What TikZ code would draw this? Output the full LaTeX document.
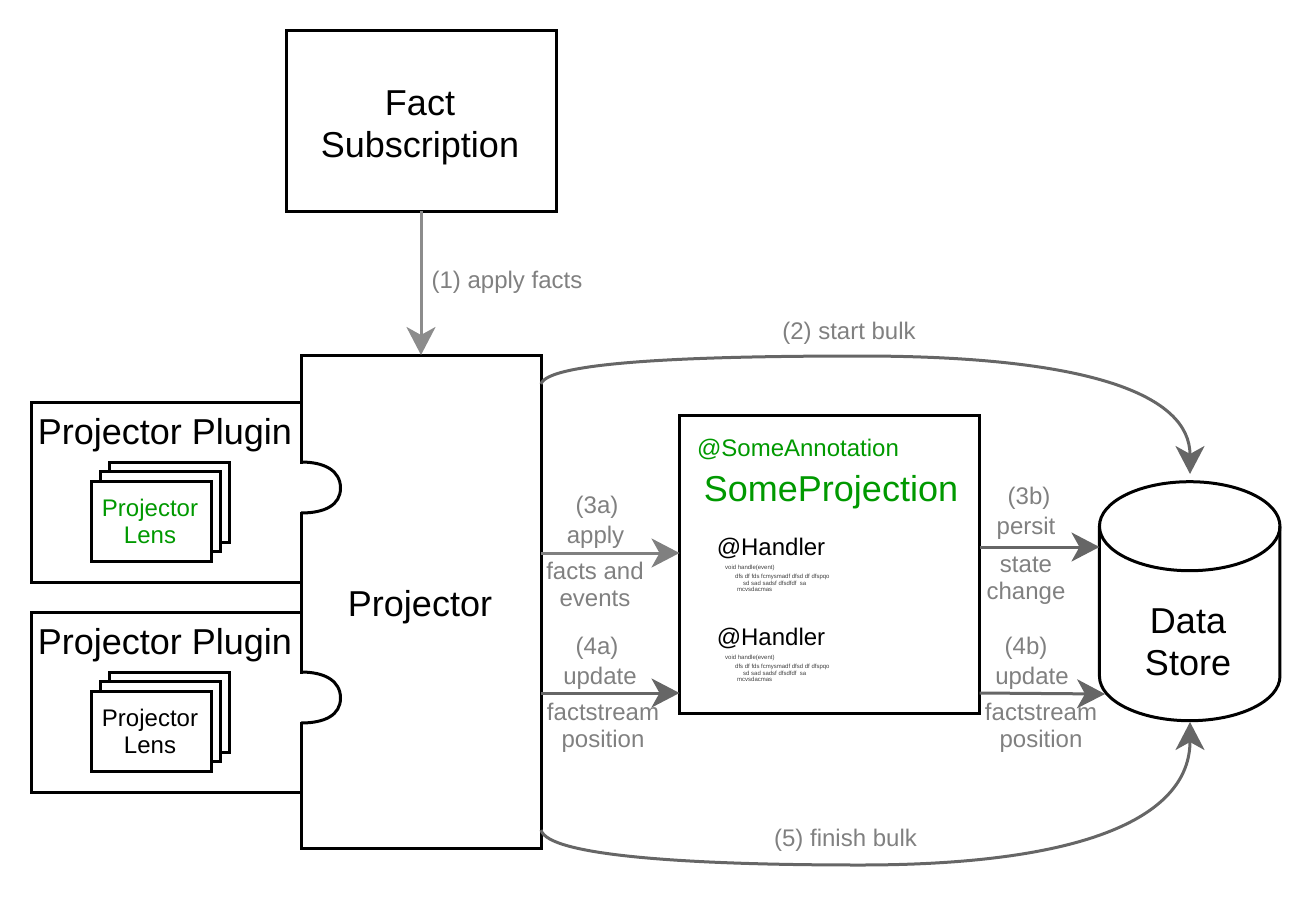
\documentclass[tikz,border=0pt]{standalone}
\usepackage{fontspec}
\setmainfont{Liberation Sans}
\usetikzlibrary{arrows.meta}
\definecolor{lensgreen}{HTML}{009900}
\definecolor{labelgray}{HTML}{808080}
\definecolor{flowdark}{HTML}{666666}
\definecolor{flowmid}{HTML}{808080}
\definecolor{flowlight}{HTML}{8C8C8C}
\tikzset{
  box/.style={draw=black,line width=3pt,fill=white,inner sep=0pt,outer sep=0pt,align=center},
  big/.style={font=\fontsize{36}{42}\selectfont,align=center,inner sep=0pt},
  mid/.style={font=\fontsize{24}{27}\selectfont,align=center,inner sep=0pt},
  flowlabel/.style={mid,text=labelgray},
  tiny/.style={font=\fontsize{6}{6}\selectfont,anchor=west,inner sep=0pt,text=black!75},
  flow/.style={line width=3pt,-{Stealth[length=28pt,width=29pt,inset=8pt]}},
}
\begin{document}
\begin{tikzpicture}[x=1pt,y=-1pt]
    \useasboundingbox (0,0) rectangle (1311,915);
    % top box
    \node [box,minimum width=270pt,minimum height=180pt] (sub) at (421,121) {};
    \node [big] (subtext) at (420,128) {Fact\\Subscription};
    % the two plugins
    \foreach \py/\lenscol/\pname in {0/lensgreen/a,210/black/b} {
        \node [box,minimum width=270pt,minimum height=180pt] (plugin\pname) at (166,492+\py) {};
        \node [big] (plugintext\pname) at (165,435+\py) {Projector Plugin};
        \node [box,minimum width=120pt,minimum height=80pt] (lensback\pname) at (169.5,502+\py) {};
        \node [box,minimum width=120pt,minimum height=80pt] (lensmid\pname) at (160.5,511+\py) {};
        \node [box,minimum width=120pt,minimum height=80pt] (lens\pname) at (151.5,521+\py) {};
        \node [mid,text=\lenscol] (lenstext\pname) at (150,521+\py) {Projector\\Lens};
    }
    \node [box,minimum width=240pt,minimum height=493pt] (projector) at (421,601.5) {};
    \node [big] (projectortext) at (420,607) {Projector};
    % puzzle bumps on the left side of the projector
    \foreach \py in {0,210} {
        \fill [white] (299,463.5+\py) rectangle (303,511.5+\py);
        \draw [black,line width=3pt] (301,462+\py) .. controls (325,462+\py) and (340.5,471+\py) .. (340.5,488+\py)
            .. controls (340.5,505+\py) and (325,513+\py) .. (301,513+\py);
    }
    % projection box
    \node [box,minimum width=300pt,minimum height=298pt] (projection) at (829.5,564) {};
    \node [mid,text=lensgreen] (annotation) at (798,449) {@SomeAnnotation};
    \node [big,text=lensgreen] (projname) at (831,492.5) {SomeProjection};
    \foreach \hy/\hname in {0/a,90/b} {
        \node [mid] (handler\hname) at (771,548+\hy) {@Handler};
        \node [tiny] (sig\hname) at (725,568+\hy) {void handle(event)};
        \node [tiny] (codeone\hname) at (735,577+\hy) {dfs df fds fcmysmadf dfsd df dfspqo};
        \node [tiny] (codetwo\hname) at (743,583+\hy) {sd sad sadsf dfsdfdf\ \ sa};
        \node [tiny] (codethree\hname) at (737,589+\hy) {mcvsdacmas};
    }
    % data store
    \node [inner sep=0pt,outer sep=0pt,minimum width=180.5pt,minimum height=239pt] (store) at (1189.7,601.2) {};
    \draw [black,line width=3pt,fill=white] (store.north west) ++(0,44.5)
        arc [start angle=180,end angle=0,x radius=90.25pt,y radius=44.5pt] -- ++(0,150)
        arc [start angle=0,end angle=-180,x radius=90.25pt,y radius=44.5pt] -- cycle;
    \draw [black,line width=3pt] (store.north west) ++(0,44.5)
        arc [start angle=180,end angle=360,x radius=90.25pt,y radius=44.5pt];
    \node [big] (storetext) at (1188,642.5) {Data\\Store};
    % connectors
    \coordinate (applyrow) at (600,553);
    \coordinate (updaterow) at (600,693);
    \coordinate (persistrow) at (1040,547);
    \coordinate (bulkout) at (541,384);
    \coordinate (bulkin) at (1190,474);
    \coordinate (finishout) at (541,830);
    \coordinate (finishin) at (1190,722);
    \coordinate (storeupd) at (1105,694);
    \draw [flow,flowlight] (sub.south) -- (projector.north);
    \draw [flow,flowmid] (projector.east |- applyrow) -- (projection.west |- applyrow);
    \draw [flow,flowdark] (projector.east |- updaterow) -- (projection.west |- updaterow);
    \draw [flow,flowdark] (projection.east |- persistrow) -- (store.west |- persistrow);
    \draw [flow,flowdark] (projection.east |- updaterow) -- (storeupd);
    \draw [flow,flowdark] (bulkout) .. controls (548,362) and (690,356) .. (860,356)
        .. controls (1090,356) and (1190,395) .. (bulkin);
    \draw [flow,flowdark] (finishout) .. controls (548,856) and (690,865) .. (860,865)
        .. controls (1090,865) and (1190,815) .. (finishin);
    % labels
    \node [flowlabel] (lblone) at (507,282) {(1) apply facts};
    \node [flowlabel] (lbltwo) at (849,333) {(2) start bulk};
    \node [flowlabel] (lblfive) at (845.5,840) {(5) finish bulk};
    \node [flowlabel] (lblthreea) at (597,507) {(3a)};
    \node [flowlabel] (lblapply) at (595.5,537) {apply};
    \node [flowlabel] (lblfacts) at (595,584.5) {facts and\\events};
    \node [flowlabel] (lblfoura) at (597,648) {(4a)};
    \node [flowlabel] (lblupda) at (600,678) {update};
    \node [flowlabel] (lblposa) at (603,727.5) {factstream\\position};
    \node [flowlabel] (lblthreeb) at (1029,498) {(3b)};
    \node [flowlabel] (lblpersit) at (1026,528) {persit};
    \node [flowlabel] (lblstate) at (1026,580.5) {state\\change};
    \node [flowlabel] (lblfourb) at (1026,648) {(4b)};
    \node [flowlabel] (lblupdb) at (1032,678) {update};
    \node [flowlabel] (lblposb) at (1041,727.5) {factstream\\position};
\end{tikzpicture}
\end{document}
